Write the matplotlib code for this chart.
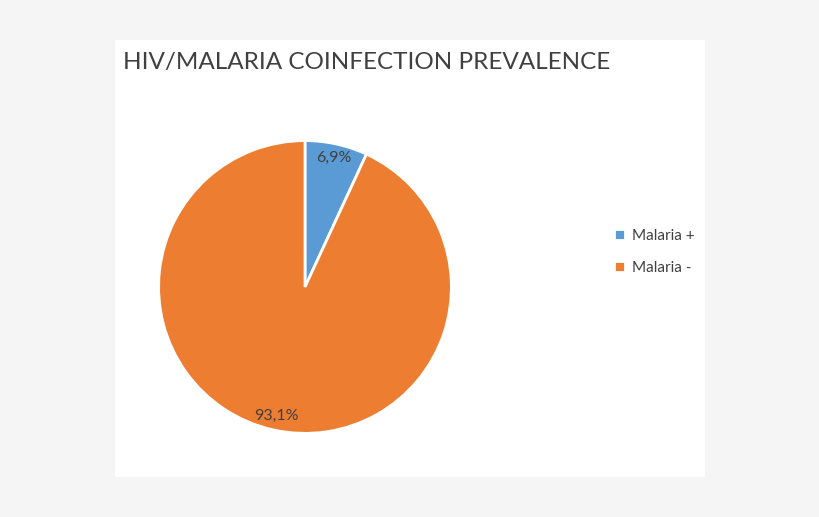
import matplotlib
matplotlib.use("Agg")
import matplotlib.pyplot as plt

plt.rcParams["font.family"] = ["Lato", "DejaVu Sans"]

labels = ["Malaria +", "Malaria -"]
values = [6.9, 93.1]
colors = ["#5B9BD5", "#ED7D31"]
title = "HIV/MALARIA COINFECTION PREVALENCE"
INK = "#404040"

fig = plt.figure(figsize=(8.2, 5.17), dpi=100, facecolor="#F5F5F5")

# white chart area behind everything
bg = fig.add_axes([0.140, 0.077, 0.720, 0.846], zorder=-1)
bg.set_facecolor("white")
bg.set_xticks([])
bg.set_yticks([])
for s in bg.spines.values():
    s.set_visible(False)

ax = fig.add_axes([0.1488, 0.0909, 0.4463, 0.708])
wedges, _, autotexts = ax.pie(
    values, colors=colors, startangle=90, counterclock=False,
    autopct=lambda p: f"{p:.1f}%".replace(".", ","), pctdistance=0.9,
    wedgeprops=dict(edgecolor="white", linewidth=2),
    textprops=dict(color=INK, fontsize=11.5),
)
ax.set_aspect("equal")

fig.text(0.150, 0.880, title, fontsize=17.5, color=INK, ha="left", va="center")

fig.legend(wedges, labels, loc="center left", bbox_to_anchor=(0.732, 0.513),
           frameon=False, fontsize=11, labelcolor=INK, handlelength=0.7,
           handleheight=0.7, labelspacing=1.2, handletextpad=0.5)

fig.savefig("out.png", dpi=100, facecolor=fig.get_facecolor())
